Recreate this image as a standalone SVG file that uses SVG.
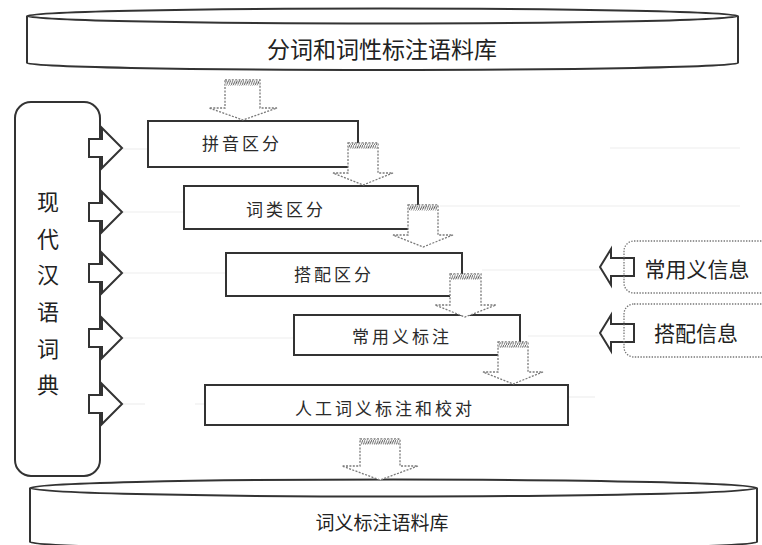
<svg xmlns="http://www.w3.org/2000/svg" width="762" height="545" viewBox="0 0 762 545">
<defs>
<pattern id="hatch" patternUnits="userSpaceOnUse" width="2.2" height="5">
<rect width="2.2" height="5" fill="#fff"/>
<line x1="0" y1="5" x2="2.2" y2="0" stroke="#555" stroke-width="0.9"/>
</pattern>
<style>
.solid{fill:#fff;stroke:#333;stroke-width:2;stroke-linejoin:miter}
.cyl{fill:#fff;stroke:#333;stroke-width:2}
.flow{fill:#fff;stroke:#7a7a7a;stroke-width:1.3;stroke-dasharray:2 1.4}
.hat{fill:url(#hatch);stroke:none}
.dotbox{fill:none;stroke:#777;stroke-width:1.3;stroke-dasharray:1.4 1.4}
.faint{stroke:#eeeeee;stroke-width:1.2}
.t{font-family:"Noto Sans CJK SC","Noto Sans CJK TC",sans-serif;fill:#222;text-anchor:middle;dominant-baseline:central}
.tb{font-size:23px}
.tp{font-size:17px;letter-spacing:3px;fill:#2a2a2a}
.tv{font-size:22px}
.tr{font-size:21px}
</style>
</defs>

<g id="faint-lines">
<line class="faint" x1="123" y1="149" x2="148" y2="149"/>
<line class="faint" x1="610" y1="148" x2="740" y2="148"/>
<line class="faint" x1="123" y1="212" x2="184" y2="212"/>
<line class="faint" x1="440" y1="206" x2="740" y2="206"/>
<line class="faint" x1="123" y1="273" x2="226" y2="273"/>
<line class="faint" x1="482" y1="270" x2="600" y2="270"/>
<line class="faint" x1="123" y1="338" x2="294" y2="338"/>
<line class="faint" x1="528" y1="336" x2="600" y2="336"/>
<line class="faint" x1="123" y1="404" x2="145" y2="404"/>
<line class="faint" x1="195" y1="404" x2="205" y2="404"/>
<line class="faint" x1="568" y1="397" x2="595" y2="397"/>
</g>

<g id="corpus-top">
<path class="cyl" d="M27,16 L27,63 A355.5,7 0 0,0 738,63 L738,16"/>
<ellipse class="cyl" cx="382.5" cy="16" rx="355.5" ry="7.5"/>
<text class="t tb" x="382" y="48">分词和词性标注语料库</text>
</g>

<g id="dictionary">
<rect class="solid" x="15" y="102" width="85" height="374" rx="16"/>
<text class="t tv" x="48" y="200">现</text>
<text class="t tv" x="48" y="237">代</text>
<text class="t tv" x="48" y="273">汉</text>
<text class="t tv" x="48" y="310">语</text>
<text class="t tv" x="48" y="347">词</text>
<text class="t tv" x="48" y="383">典</text>
</g>

<g id="step1">
<rect class="solid" x="148" y="121" width="210" height="46"/>
<text class="t tp" x="242" y="142">拼音区分</text>
</g>
<g id="step2">
<rect class="solid" x="184" y="186" width="234" height="43"/>
<text class="t tp" x="286" y="208">词类区分</text>
</g>
<g id="step3">
<rect class="solid" x="226" y="253" width="236" height="43"/>
<text class="t tp" x="334" y="273">搭配区分</text>
</g>
<g id="step4">
<rect class="solid" x="294" y="315" width="226" height="40"/>
<text class="t tp" x="402" y="335">常用义标注</text>
</g>
<g id="step5">
<rect class="solid" x="205" y="385" width="363" height="40"/>
<text class="t tp" x="385" y="407">人工词义标注和校对</text>
</g>

<g id="info-common">
<polygon class="solid" points="634,258 611,258 611,249 600,267 611,285 611,276 634,276"/>
<rect class="dotbox" x="624" y="241" width="150" height="52" rx="10"/>
<text class="t tr" x="697" y="268">常用义信息</text>
</g>
<g id="info-colloc">
<polygon class="solid" points="634,324 611,324 611,315 600,333 611,351 611,342 634,342"/>
<rect class="dotbox" x="624" y="304" width="150" height="53" rx="10"/>
<text class="t tr" x="696" y="332">搭配信息</text>
</g>

<g id="corpus-bottom">
<path class="cyl" d="M30,488 L30,542 A363.5,8 0 0,0 757,542 L757,488"/>
<ellipse class="cyl" cx="393.5" cy="488" rx="363.5" ry="8.5"/>
<text class="t tb" x="382" y="521" style="font-size:19px">词义标注语料库</text>
</g>

<g id="connectors">
<polygon class="solid" points="89,139 102,139 102,128 122,148 102,168 102,157 89,157"/>
<polygon class="solid" points="89,203 102,203 102,192 122,212 102,232 102,221 89,221"/>
<polygon class="solid" points="89,264 102,264 102,253 122,273 102,293 102,282 89,282"/>
<polygon class="solid" points="89,329 102,329 102,318 122,338 102,358 102,347 89,347"/>
<polygon class="solid" points="89,395 102,395 102,384 122,404 102,424 102,413 89,413"/>
<polygon class="flow" points="225,80 260,80 260,108 277,108 243,120 209,108 225,108"/>
<rect class="hat" x="225.5" y="80.5" width="34" height="5"/>
<polygon class="flow" points="348,143 378,143 378,173 393,173 363,185 333,173 348,173"/>
<rect class="hat" x="348.5" y="143.5" width="29" height="5"/>
<polygon class="flow" points="408,205 438,205 438,235 453,235 423,247 393,235 408,235"/>
<rect class="hat" x="408.5" y="205.5" width="29" height="5"/>
<polygon class="flow" points="450,274 481,274 481,305 496,305 465,317 435,305 450,305"/>
<rect class="hat" x="450.5" y="274.5" width="30" height="5"/>
<polygon class="flow" points="498,342 528,342 528,372 543,372 513,384 483,372 498,372"/>
<rect class="hat" x="498.5" y="342.5" width="29" height="5"/>
<polygon class="flow" points="360,439 400,439 400,466 418,466 380,480 342,466 360,466"/>
<rect class="hat" x="360.5" y="439.5" width="39" height="5"/>
</g>
</svg>
